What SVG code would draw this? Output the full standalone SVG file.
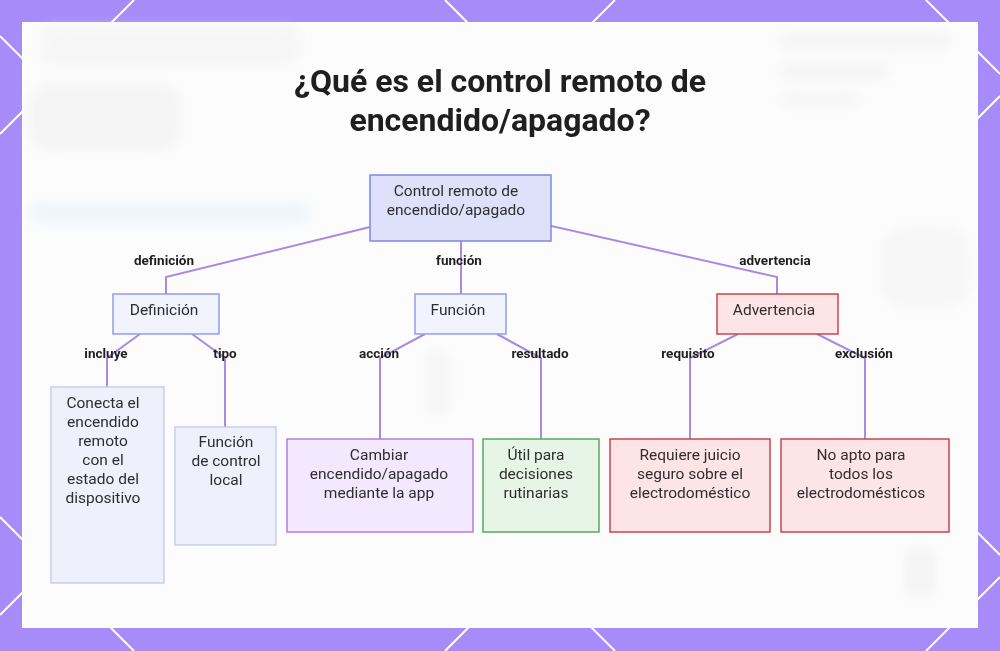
<svg xmlns="http://www.w3.org/2000/svg" width="1000" height="651" viewBox="0 0 1000 651">
<defs>
<filter id="blur" x="-20%" y="-20%" width="140%" height="140%"><feGaussianBlur stdDeviation="6"/></filter>
<style>
.bgline{stroke:#ffffff;stroke-width:2;fill:none}
.title{font-family:Roboto,"Liberation Sans",sans-serif;font-weight:700;font-size:32px;fill:#1f1f1f;text-anchor:middle}
.nt{font-family:Roboto,"Liberation Sans",sans-serif;font-size:15.5px;fill:#2e2e2e;text-anchor:middle}
.lbl{font-family:Roboto,"Liberation Sans",sans-serif;font-weight:700;font-size:13.5px;fill:#1f1f1f;text-anchor:middle}
.edge{stroke:#a68be2;stroke-width:2;fill:none}
.blue{fill:#dfe1fb;stroke:#7f87e2;stroke-width:1.5}
.lblue{fill:#f1f3fe;stroke:#8e9ee8;stroke-width:1.5}
.pale{fill:#eef0fc;stroke:#c7cdf0;stroke-width:1.5}
.purple{fill:#f3e8fd;stroke:#b27cdb;stroke-width:1.5}
.green{fill:#e7f5e7;stroke:#58a95c;stroke-width:1.5}
.red{fill:#fde5e7;stroke:#c8434f;stroke-width:1.5}
</style>
</defs>
<rect x="0" y="0" width="1000" height="651" fill="#a78bf8"/>
<g id="pattern">
<line class="bgline" x1="134" y1="0" x2="0" y2="134"/>
<line class="bgline" x1="615" y1="0" x2="0" y2="615"/>
<line class="bgline" x1="1000" y1="96" x2="445" y2="651"/>
<line class="bgline" x1="1000" y1="577" x2="926" y2="651"/>
<line class="bgline" x1="0" y1="517" x2="134" y2="651"/>
<line class="bgline" x1="0" y1="36" x2="615" y2="651"/>
<line class="bgline" x1="445" y1="0" x2="1000" y2="555"/>
<line class="bgline" x1="926" y1="0" x2="1000" y2="74"/>
</g>
<rect id="panel" x="22" y="22" width="956" height="606" fill="#fcfcfc"/>
<g id="faded" filter="url(#blur)" fill="#eeeeee">
<rect x="30" y="85" width="150" height="65" rx="20" opacity="0.55"/>
<rect x="40" y="25" width="260" height="40" rx="15" opacity="0.4"/>
<rect x="30" y="202" width="280" height="22" rx="10" fill="#e6f0fb" opacity="0.5"/>
<rect x="780" y="32" width="170" height="18" rx="8" opacity="0.45"/>
<rect x="780" y="62" width="110" height="18" rx="8" opacity="0.45"/>
<rect x="780" y="92" width="80" height="14" rx="8" opacity="0.45"/>
<rect x="880" y="225" width="90" height="85" rx="30" opacity="0.35"/>
<rect x="425" y="350" width="25" height="65" rx="10" opacity="0.4"/>
<rect x="905" y="550" width="30" height="45" rx="8" opacity="0.6"/>
</g>
<g id="title">
<text class="title" x="500" y="92">¿Qué es el control remoto de</text>
<text class="title" x="500" y="131">encendido/apagado?</text>
</g>
<g id="connectors">
<polyline class="edge" points="370,227 166,277 166,294"/>
<line class="edge" x1="461" y1="241" x2="461" y2="294"/>
<polyline class="edge" points="551,226 777,277 777,294"/>
<polyline class="edge" points="140,334 107,358 107,387"/>
<polyline class="edge" points="192,334 225,358 225,427"/>
<polyline class="edge" points="425,334 380,358 380,439"/>
<polyline class="edge" points="497,334 541,358 541,439"/>
<polyline class="edge" points="738,334 690,358 690,439"/>
<polyline class="edge" points="817,334 865,358 865,439"/>
<text class="lbl" x="164" y="265">definición</text>
<text class="lbl" x="459" y="265">función</text>
<text class="lbl" x="775" y="265">advertencia</text>
<text class="lbl" x="106" y="358">incluye</text>
<text class="lbl" x="225" y="358">tipo</text>
<text class="lbl" x="379" y="358">acción</text>
<text class="lbl" x="540" y="358">resultado</text>
<text class="lbl" x="688" y="358">requisito</text>
<text class="lbl" x="864" y="358">exclusión</text>
</g>
<g id="root">
<rect class="blue" x="370" y="175" width="181" height="66"/>
<text class="nt" x="456" y="196">Control remoto de</text>
<text class="nt" x="456" y="215">encendido/apagado</text>
</g>
<g id="definicion">
<rect class="lblue" x="113" y="294" width="106" height="40"/>
<text class="nt" x="164" y="315">Definición</text>
</g>
<g id="funcion">
<rect class="lblue" x="415" y="294" width="91" height="40"/>
<text class="nt" x="458" y="315">Función</text>
</g>
<g id="advertencia">
<rect class="red" x="717" y="294" width="121" height="40"/>
<text class="nt" x="774" y="315">Advertencia</text>
</g>
<g id="conecta">
<rect class="pale" x="51" y="387" width="113" height="196"/>
<text class="nt" x="103" y="408">Conecta el</text>
<text class="nt" x="103" y="427">encendido</text>
<text class="nt" x="103" y="446">remoto</text>
<text class="nt" x="103" y="465">con el</text>
<text class="nt" x="103" y="484">estado del</text>
<text class="nt" x="103" y="503">dispositivo</text>
</g>
<g id="funcionlocal">
<rect class="pale" x="175" y="427" width="101" height="118"/>
<text class="nt" x="226" y="447">Función</text>
<text class="nt" x="226" y="466">de control</text>
<text class="nt" x="226" y="485">local</text>
</g>
<g id="cambiar">
<rect class="purple" x="287" y="439" width="186" height="93"/>
<text class="nt" x="379" y="460">Cambiar</text>
<text class="nt" x="379" y="479">encendido/apagado</text>
<text class="nt" x="379" y="498">mediante la app</text>
</g>
<g id="util">
<rect class="green" x="483" y="439" width="116" height="93"/>
<text class="nt" x="536" y="460">Útil para</text>
<text class="nt" x="536" y="479">decisiones</text>
<text class="nt" x="536" y="498">rutinarias</text>
</g>
<g id="requiere">
<rect class="red" x="610" y="439" width="160" height="93"/>
<text class="nt" x="690" y="460">Requiere juicio</text>
<text class="nt" x="690" y="479">seguro sobre el</text>
<text class="nt" x="690" y="498">electrodoméstico</text>
</g>
<g id="noapto">
<rect class="red" x="781" y="439" width="168" height="93"/>
<text class="nt" x="861" y="460">No apto para</text>
<text class="nt" x="861" y="479">todos los</text>
<text class="nt" x="861" y="498">electrodomésticos</text>
</g>
</svg>
